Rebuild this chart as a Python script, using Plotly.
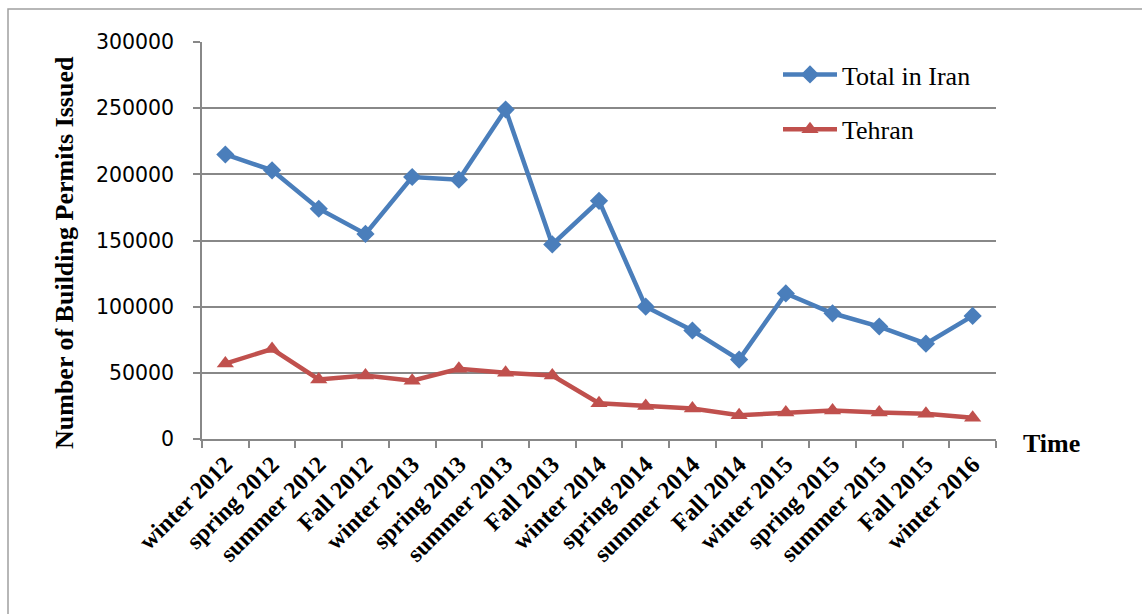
import plotly.graph_objects as go

categories = ["winter 2012", "spring 2012", "summer 2012", "Fall 2012", "winter 2013",
              "spring 2013", "summer 2013", "Fall 2013", "winter 2014", "spring 2014",
              "summer 2014", "Fall 2014", "winter 2015", "spring 2015", "summer 2015",
              "Fall 2015", "winter 2016"]
total_iran = [215000, 203000, 174000, 155000, 198000, 196000, 249000, 147000, 180000,
              100000, 82000, 60000, 110000, 95000, 85000, 72000, 93000]
tehran = [57000, 68000, 45000, 48000, 44000, 53000, 50000, 48000, 27000,
          25000, 23000, 18000, 20000, 21500, 20000, 19000, 16000]
y_ticks = [0, 50000, 100000, 150000, 200000, 250000, 300000]

W, H = 1142, 614
L, R, T, B = 202, 146, 42, 175
pw, ph = W - L - R, H - T - B

def px(x):
    return (x - L) / pw

def py(y):
    return (H - B - y) / ph

BLUE = "#4A7EBB"
RED = "#C0504D"
GRID = "#888888"
SERIF = "Liberation Serif, Times New Roman, serif"

fig = go.Figure()
fig.add_trace(go.Scatter(
    x=categories, y=total_iran, name="Total in Iran", mode="lines+markers",
    line=dict(color=BLUE, width=4.5), marker=dict(symbol="diamond", size=14, color=BLUE),
    legendgroup="a"))
fig.add_trace(go.Scatter(
    x=categories, y=tehran, name="Tehran", mode="lines+markers",
    line=dict(color=RED, width=4.5), marker=dict(symbol="triangle-up", size=15, color=RED),
    legendgroup="b"))

fig.update_layout(
    width=W, height=H,
    margin=dict(l=L, r=R, t=T, b=B, autoexpand=False),
    plot_bgcolor="white", paper_bgcolor="white",
    showlegend=True,
    legend=dict(x=px(778), y=py(51), xanchor="left", yanchor="top",
                font=dict(family=SERIF, size=26, color="black"),
                itemwidth=54,
                tracegroupgap=18, bgcolor="rgba(0,0,0,0)"),
    xaxis=dict(type="category", tickson="boundaries", ticks="outside", ticklen=7,
               tickcolor=GRID, tickwidth=1.5, showline=True, linecolor=GRID, linewidth=1.5,
               showgrid=False, tickangle=-45,
               tickfont=dict(family=SERIF, size=24, color="black", weight="bold"),
               range=[-0.5, len(categories) - 0.5], automargin=False),
    yaxis=dict(range=[0, 300000], tickvals=y_ticks, tickformat="d", ticks="outside",
               ticklen=7, tickcolor=GRID, tickwidth=1.5, showline=True, linecolor=GRID,
               linewidth=1.5, showgrid=True, gridcolor=GRID, gridwidth=1.5,
               tickfont=dict(family="DejaVu Sans, sans-serif", size=20.5, color="black"),
               ticklabelstandoff=15, zeroline=False, automargin=False),
    shapes=[dict(type="rect", xref="paper", yref="paper",
                 x0=px(8), x1=px(W + 10), y0=py(H + 10), y1=py(9),
                 line=dict(color="#A0A0A0", width=1.5), fillcolor="rgba(0,0,0,0)", layer="below")],
    annotations=[
        dict(text="<b>Number of Building Permits Issued</b>", xref="paper", yref="paper",
             x=px(64), y=py(253), textangle=-90, showarrow=False,
             xanchor="center", yanchor="middle",
             font=dict(family=SERIF, size=26, color="black")),
        dict(text="<b>Time</b>", xref="paper", yref="paper", x=px(1051), y=py(443),
             xanchor="center", yanchor="middle",
             showarrow=False, font=dict(family=SERIF, size=26, color="black")),
    ],
)

fig.write_html("out.html")
